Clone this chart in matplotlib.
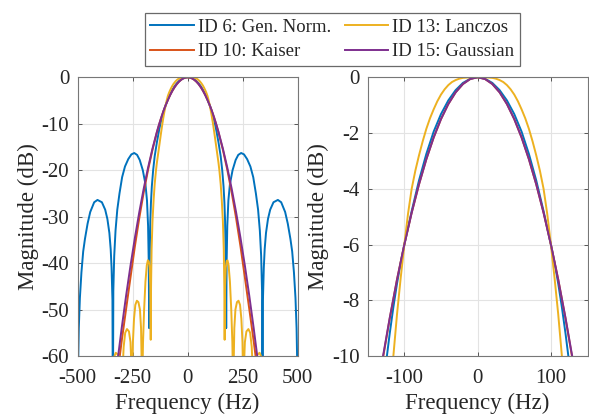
import matplotlib
matplotlib.use('Agg')
import matplotlib.pyplot as plt
import numpy as np

plt.rcParams['font.family'] = ['Liberation Serif', 'DejaVu Serif']
plt.rcParams['axes.unicode_minus'] = False

# ---- data (one-sided, symmetric about 0 Hz) ----
labels = ["ID 6: Gen. Norm.", "ID 10: Kaiser", "ID 13: Lanczos", "ID 15: Gaussian"]
colors = ["#0072BD", "#D95319", "#EDB120", "#7E2F8E"]

f_gen = [0, 10, 20, 30, 40, 50, 60, 70, 80, 90, 100, 105, 110, 115, 120, 125, 130, 140,
         150, 157, 163, 167, 170, 172, 174, 175, 177, 180, 185, 192, 204, 218, 230, 243,
         256, 270, 285, 298, 310, 320, 328, 334, 338, 340, 342, 346, 350, 356, 365, 375,
         390, 410, 425, 443, 455, 467, 475, 483, 490, 495, 498, 500]
db_gen = [0, -0.05, -0.2, -0.46, -0.83, -1.32, -1.95, -2.75, -3.7, -4.8, -6.0, -6.65,
          -7.4, -8.25, -9.2, -10.25, -11.4, -14.0, -17.0, -20, -23.5, -27, -31, -37, -46,
          -54, -40, -32, -26.5, -23, -20, -17.8, -16.7, -16.3, -16.6, -17.6, -19.2, -21.5,
          -25, -28.5, -33, -38.5, -46, -75, -48, -41, -37, -33.5, -30.5, -28.5, -26.9,
          -26.4, -26.9, -29, -31.5, -34.8, -37.5, -42, -47.5, -54, -62, -75]

f_kai = [0, 10, 20, 30, 40, 50, 60, 70, 80, 90, 100, 110, 120, 130, 140, 160, 180, 200,
         220, 240, 260, 280, 300, 310, 320]
db_kai = [0, -0.06, -0.24, -0.54, -0.96, -1.5, -2.16, -2.94, -3.84, -4.86, -6.0, -7.25,
          -8.66, -10.2, -11.85, -15.6, -19.9, -24.8, -30.3, -36.4, -43.1, -49.9, -56.8,
          -60.5, -64]

f_lan = [0, 10, 20, 25, 30, 35, 40, 45, 50, 55, 60, 65, 70, 75, 80, 85, 90, 95, 100, 105,
         110, 115, 120, 125, 130, 140, 144, 150, 155, 160, 164, 166.5, 168, 170, 173, 177,
         181, 186, 192, 198, 203, 206, 209, 212, 217, 224, 231, 238, 244, 249, 252, 256,
         260, 267, 276, 284, 291, 296, 300, 305, 315, 327, 337, 342]
db_lan = [0, 0, -0.02, -0.05, -0.1, -0.17, -0.28, -0.43, -0.62, -0.86, -1.15, -1.47,
          -1.85, -2.3, -2.8, -3.35, -4.0, -4.9, -6.0, -7.2, -8.5, -10.0, -11.6, -13.3,
          -15.0, -18.4, -20, -23, -26.5, -31, -37, -45, -56.5, -45, -41, -39.6, -39.4,
          -40.5, -44, -50, -57, -65, -62, -54, -50, -48.4, -48.1, -49, -52, -57, -65, -62,
          -57, -54.7, -54.2, -55, -58, -63, -70, -62, -59.8, -59.3, -60.5, -65]

f_gau = [0, 10, 20, 30, 40, 50, 60, 70, 80, 90, 100, 110, 120, 130, 140, 160, 180, 200,
         220, 240, 260, 280, 300, 320]
db_gau = [0, -0.06, -0.24, -0.54, -0.96, -1.5, -2.16, -2.94, -3.84, -4.86, -6.0, -7.26,
          -8.64, -10.14, -11.76, -15.36, -19.44, -24.0, -29.04, -34.56, -40.56, -47.04,
          -54.0, -61.44]

series = [(f_gen, db_gen), (f_kai, db_kai), (f_lan, db_lan), (f_gau, db_gau)]

xticks_full = [-500, -250, 0, 250, 500]
yticks_full = [0, -10, -20, -30, -40, -50, -60]
xticks_zoom = [-100, 0, 100]
yticks_zoom = [0, -2, -4, -6, -8, -10]


def mirrored(f, d):
    f = np.asarray(f, float)
    d = np.asarray(d, float)
    return np.concatenate([-f[::-1], f[1:]]), np.concatenate([d[::-1], d[1:]])


fig = plt.figure(figsize=(5.89, 4.16), dpi=100)
ax1 = fig.add_axes([0.1319, 0.1442, 0.3735, 0.670])
ax2 = fig.add_axes([0.6243, 0.1442, 0.3732, 0.670])

txt = '#262626'
handles = []
for ax in (ax1, ax2):
    for (f, d), c, lab in zip(series, colors, labels):
        ff, dd = mirrored(f, d)
        h, = ax.plot(ff, dd, color=c, lw=1.4, label=lab, solid_joinstyle='round')
        if ax is ax1:
            handles.append(h)
    ax.grid(True, color='#e3e3e3', lw=0.8)
    ax.set_axisbelow(True)
    ax.tick_params(direction='in', top=True, right=True, length=3, width=0.7,
                   color='#555555', labelsize=15, labelcolor=txt)
    ax.tick_params(axis='x', pad=9)
    ax.tick_params(axis='y', pad=6)
    for s in ax.spines.values():
        s.set_color('#777777')
        s.set_linewidth(0.8)
    ax.set_xlabel('Frequency (Hz)', fontsize=16.5, color=txt, labelpad=4)
    ax.set_ylabel('Magnitude (dB)', fontsize=16.5, color=txt, labelpad=2)

ax1.set_xlim(-500, 500)
ax1.set_ylim(-60, 0)
ax1.set_xticks(xticks_full)
ax1.set_yticks(yticks_full)

ax2.set_xlim(-150, 150)
ax2.set_ylim(-10, 0)
ax2.set_xticks(xticks_zoom)
ax2.set_yticks(yticks_zoom)

leg = fig.legend(handles, labels, ncol=2, loc='center', bbox_to_anchor=(0.5645, 0.905),
                 fontsize=13.5, frameon=True, fancybox=False, edgecolor='#444444',
                 handlelength=2.3, handletextpad=0.25, columnspacing=0.7,
                 labelspacing=0.4, borderpad=0.3, borderaxespad=0)
leg.get_frame().set_linewidth(0.9)
for t in leg.get_texts():
    t.set_color(txt)

fig.savefig('out.png', dpi=100)
